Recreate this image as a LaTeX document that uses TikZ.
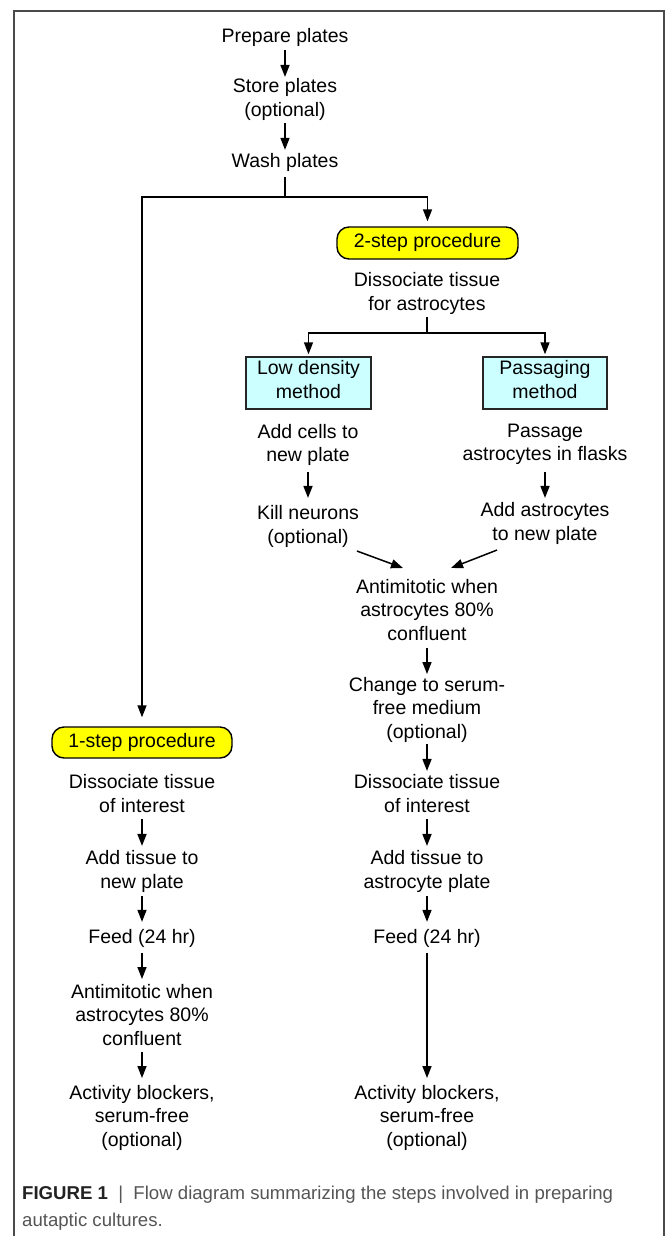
\documentclass[tikz,border=0pt]{standalone}
\usepackage{fontspec}
\setmainfont{Liberation Sans}
\usetikzlibrary{arrows.meta,calc}
\definecolor{boxyellow}{HTML}{FFFF00}
\definecolor{boxcyan}{HTML}{CCFFFF}
\definecolor{framecol}{HTML}{4A4A4A}
\definecolor{capgray}{HTML}{555555}
\definecolor{capdark}{HTML}{222222}
\begin{document}
\begin{tikzpicture}[x=1pt,y=-1pt,
  txt/.style={font=\fontsize{19.5}{23.5}\selectfont, align=center, inner sep=0pt,
    execute at begin node=\strut, execute at end node=\strut},
  ybox/.style={txt, draw=black, line width=1.4pt, fill=boxyellow, rounded corners=12pt,
    minimum width=181pt, minimum height=32pt},
  cbox/.style={txt, draw=black!85, line width=1.4pt, fill=boxcyan,
    minimum height=52pt},
  ln/.style={line width=1.5pt},
  arr/.style={line width=1.5pt, -{Triangle[length=12pt,width=9pt]}}
]
\useasboundingbox (0,0) rectangle (668,1236);
% frame
\draw[framecol, line width=1.5pt] (14,1236) -- (14,11) -- (664,11) -- (664,1236);

% top column
\node[txt] (prep) at (285,38.3) {Prepare plates};
\node[txt] (store) at (285,100.8) {Store plates\\(optional)};
\node[txt] (wash) at (285,162.3) {Wash plates};
\coordinate (j1) at (285,197);

% 2-step column
\node[ybox] (two) at (427.5,243) {2-step procedure};
\node[txt] (dissA) at (427,294.8) {Dissociate tissue\\for astrocytes};
\coordinate (j2) at (427,333);
\node[cbox, minimum width=125pt] (low) at (308.5,383) {Low density\\method};
\node[cbox, minimum width=124pt] (pass) at (545,383) {Passaging\\method};
\node[txt] (addc) at (308,446.3) {Add cells to\\new plate};
\node[txt] (kill) at (308,527.8) {Kill neurons\\(optional)};
\node[txt] (passage) at (545,445.8) {Passage\\astrocytes in flasks};
\node[txt] (addastro) at (545,524.8) {Add astrocytes\\to new plate};
\node[txt] (antiB) at (427,613.3) {Antimitotic when\\astrocytes 80\%\\confluent};
\node[txt] (change) at (427,711.3) {Change to serum-\\free medium\\(optional)};
\node[txt] (dissB) at (427,796.8) {Dissociate tissue\\of interest};
\node[txt] (addtB) at (427,872.8) {Add tissue to\\astrocyte plate};
\node[txt] (feedB) at (427,938.3) {Feed (24 hr)};
\node[txt] (actB) at (427,1119.3) {Activity blockers,\\serum-free\\(optional)};

% 1-step column
\node[ybox, minimum width=180pt, minimum height=31pt] (one) at (142,742.5) {1-step procedure};
\node[txt] (dissC) at (142,796.8) {Dissociate tissue\\of interest};
\node[txt] (addtC) at (142,872.8) {Add tissue to\\new plate};
\node[txt] (feedC) at (142,938.3) {Feed (24 hr)};
\node[txt] (antiC) at (142,1018.3) {Antimitotic when\\astrocytes 80\%\\confluent};
\node[txt] (actC) at (142,1119.3) {Activity blockers,\\serum-free\\(optional)};

% connectors: top
\draw[arr, shorten >=1.3pt] (prep.south) -- (store.north);
\draw[arr, shorten >=0.5pt] (store.south) -- (wash.north);
\draw[ln, shorten <=3pt] (wash.south) -- (j1);
\draw[arr, shorten >=5pt] (j1) -| (two.north);
\draw[arr, shorten >=9pt] (j1) -| (one.north);

% 2-step
\draw[ln] (dissA.south) -- (j2);
\draw[arr, shorten >=2pt] (j2) -| (low.north);
\draw[arr, shorten >=2pt] (j2) -| (pass.north);
\draw[arr, shorten <=3.2pt, shorten >=7.3pt] (addc.south) -- (kill.north);
\draw[arr, shorten <=3.7pt, shorten >=4.3pt] (passage.south) -- (addastro.north);
\draw[arr] ([shift={(49,0.7)}]kill.south) -- ([shift={(-24,-11)}]antiB.north);
\draw[arr] ([shift={(-48,2.7)}]addastro.south) -- ([shift={(24,-11)}]antiB.north);
\draw[arr, shorten >=3pt] (antiB.south) -- (change.north);
\draw[arr, shorten <=-1.5pt, shorten >=3.3pt] (change.south) -- (dissB.north);
\draw[arr, shorten >=4.3pt] (dissB.south) -- (addtB.north);
\draw[arr, shorten <=0.7pt, shorten >=4.5pt] (addtB.south) -- (feedB.north);
\draw[arr, shorten <=3pt, shorten >=7pt] (feedB.south) -- (actB.north);

% 1-step
\draw[arr, shorten >=4.3pt] (dissC.south) -- (addtC.north);
\draw[arr, shorten <=0.7pt, shorten >=4.5pt] (addtC.south) -- (feedC.north);
\draw[arr, shorten <=3pt, shorten >=5pt] (feedC.south) -- (antiC.north);
\draw[arr, shorten <=-0.5pt, shorten >=7pt] (antiC.south) -- (actC.north);

% caption
\node[anchor=north west, inner sep=0pt, align=left, text=capgray,
  font=\fontsize{18.6}{27}\selectfont, execute at begin node=\strut] (cap) at (22,1186)
  {\textcolor{capdark}{\textbf{FIGURE 1}}\ \ |\ \ Flow diagram summarizing the steps involved in preparing\\autaptic cultures.};
\end{tikzpicture}
\end{document}
